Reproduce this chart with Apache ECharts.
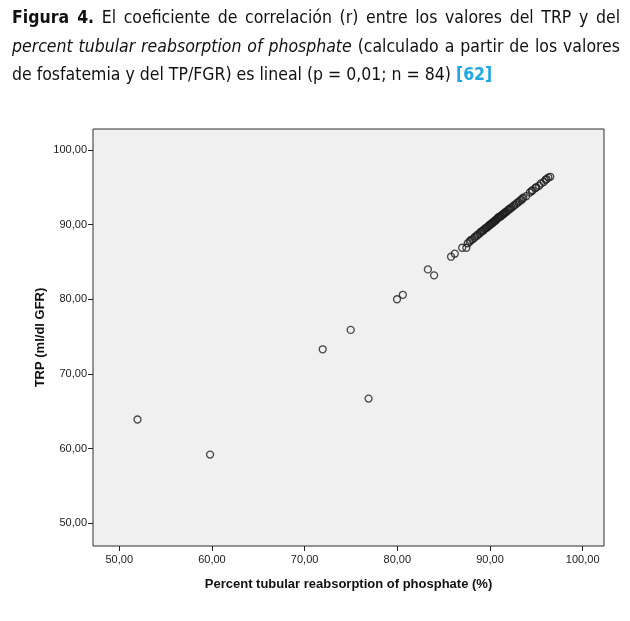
<!DOCTYPE html>
<html>
<head>
<meta charset="utf-8">
<script src="https://cdn.jsdelivr.net/npm/echarts@6/dist/echarts.min.js"></script>
<style>
  html, body { margin: 0; padding: 0; background: #fff; }
  #wrap { position: relative; width: 630px; height: 621px; overflow: hidden; }
  #caption { position: absolute; left: 12px; top: 3px; width: 608px;
    font-family: "Liberation Sans Narrow", "DejaVu Sans Condensed", "Liberation Sans", sans-serif;
    font-size: 17.5px; line-height: 28.5px; color: #111; z-index: 2; }
  #caption .j { text-align: justify; text-align-last: justify; white-space: nowrap; }
  #caption .l { text-align: left; white-space: nowrap; }
  #caption .ref { color: #1ea7e1; font-weight: bold; }
  #chart { position: absolute; left: 0; top: 0; width: 630px; height: 621px; }
</style>
</head>
<body>
<div id="wrap">
  <div id="caption">
    <div class="j"><b>Figura 4.</b> El coeficiente de correlación (r) entre los valores del TRP y del</div>
    <div class="j"><i>percent tubular reabsorption of phosphate</i> (calculado a partir de los valores</div>
    <div class="l">de fosfatemia y del TP/FGR) es lineal (p = 0,01; n = 84) <span class="ref">[62]</span></div>
  </div>
  <div id="chart"></div>
</div>
<script>
// Percent tubular reabsorption of phosphate (%)  -> x
const percentTRP = [
  51.97, 59.8, 71.95, 74.97, 76.9, 79.97, 80.6, 83.3, 83.97, 85.8, 86.2, 87.0, 87.45,
  87.6, 87.8, 87.9, 88.1, 88.3, 88.4, 88.6, 88.7, 88.9, 89.0, 89.1, 89.3, 89.4, 89.5,
  89.7, 89.8, 89.9, 90.0, 90.1, 90.2, 90.3, 90.4, 90.5, 90.6, 90.7, 90.8, 90.9, 91.0,
  91.1, 91.2, 91.3, 91.4, 91.5, 91.6, 91.8, 91.9, 92.0, 92.2, 92.3, 92.5, 92.6, 92.8,
  92.9, 93.1, 93.2, 93.4, 93.5, 93.6, 93.9, 94.3, 94.5, 94.6, 94.9, 95.0, 95.3, 95.5,
  95.8, 96.0, 96.1, 96.3, 96.5,
  89.2, 89.6, 90.0, 90.3, 90.6, 90.9, 91.2, 91.5, 91.7, 92.1
];
// TRP (ml/dl GFR) -> y
const trpValue = [
  63.9, 59.2, 73.3, 75.9, 66.7, 80.0, 80.6, 84.0, 83.2, 85.7, 86.1, 86.9, 86.9,
  87.5, 87.7, 87.9, 88.0, 88.2, 88.4, 88.5, 88.7, 88.8, 89.0, 89.1, 89.2, 89.4, 89.5,
  89.6, 89.8, 89.9, 90.0, 90.1, 90.2, 90.3, 90.4, 90.5, 90.6, 90.7, 90.8, 90.9, 91.0,
  91.1, 91.2, 91.3, 91.4, 91.5, 91.6, 91.7, 91.9, 92.0, 92.1, 92.3, 92.4, 92.6, 92.7,
  92.9, 93.0, 93.2, 93.3, 93.5, 93.6, 93.8, 94.3, 94.5, 94.6, 94.9, 95.0, 95.2, 95.5,
  95.7, 96.0, 96.1, 96.3, 96.4,
  89.2, 89.6, 89.9, 90.2, 90.5, 91.0, 91.1, 91.4, 91.7, 92.1
];
const xTicks = [50, 60, 70, 80, 90, 100];
const yTicks = [50, 60, 70, 80, 90, 100];

const points = percentTRP.map((x, i) => [x, trpValue[i]]);
const fmt = v => Number(v).toFixed(2).replace('.', ',');
const labelFont = "'Liberation Sans', Arial, sans-serif";

const chart = echarts.init(document.getElementById('chart'), null, { renderer: 'canvas' });
chart.setOption({
  animation: false,
  backgroundColor: 'transparent',
  grid: {
    left: 93, top: 129, width: 511, height: 417,
    show: true, backgroundColor: '#f0f0f0', borderColor: '#2e2e2e', borderWidth: 1,
    containLabel: false
  },
  xAxis: {
    type: 'value', min: 47.17, max: 102.3,
    name: 'Percent tubular reabsorption of phosphate (%)',
    nameLocation: 'middle', nameGap: 32, nameMoveOverlap: false,
    nameTextStyle: { fontFamily: labelFont, fontSize: 13, fontWeight: 'bold', color: '#111' },
    axisLine: { show: false },
    axisTick: { show: true, customValues: xTicks, length: 5, lineStyle: { color: '#222', width: 1 } },
    axisLabel: { customValues: xTicks, formatter: fmt, fontFamily: labelFont, fontSize: 11, color: '#1a1a1a', margin: 8 },
    splitLine: { show: false }
  },
  yAxis: {
    type: 'value', min: 46.96, max: 102.8,
    name: 'TRP (ml/dl GFR)',
    nameLocation: 'middle', nameGap: 46, nameMoveOverlap: false,
    nameTextStyle: { fontFamily: labelFont, fontSize: 13, fontWeight: 'bold', color: '#111' },
    axisLine: { show: false },
    axisTick: { show: true, customValues: yTicks, length: 5, lineStyle: { color: '#222', width: 1 } },
    axisLabel: { customValues: yTicks, formatter: fmt, fontFamily: labelFont, fontSize: 11, color: '#1a1a1a', margin: 6 },
    splitLine: { show: false }
  },
  series: [{
    type: 'scatter',
    data: points,
    symbol: 'circle',
    symbolSize: 7,
    itemStyle: { color: 'rgba(0,0,0,0)', borderColor: '#1e1e1e', borderWidth: 1.3 },
    emphasis: { disabled: true }
  }]
});
</script>
</body>
</html>
